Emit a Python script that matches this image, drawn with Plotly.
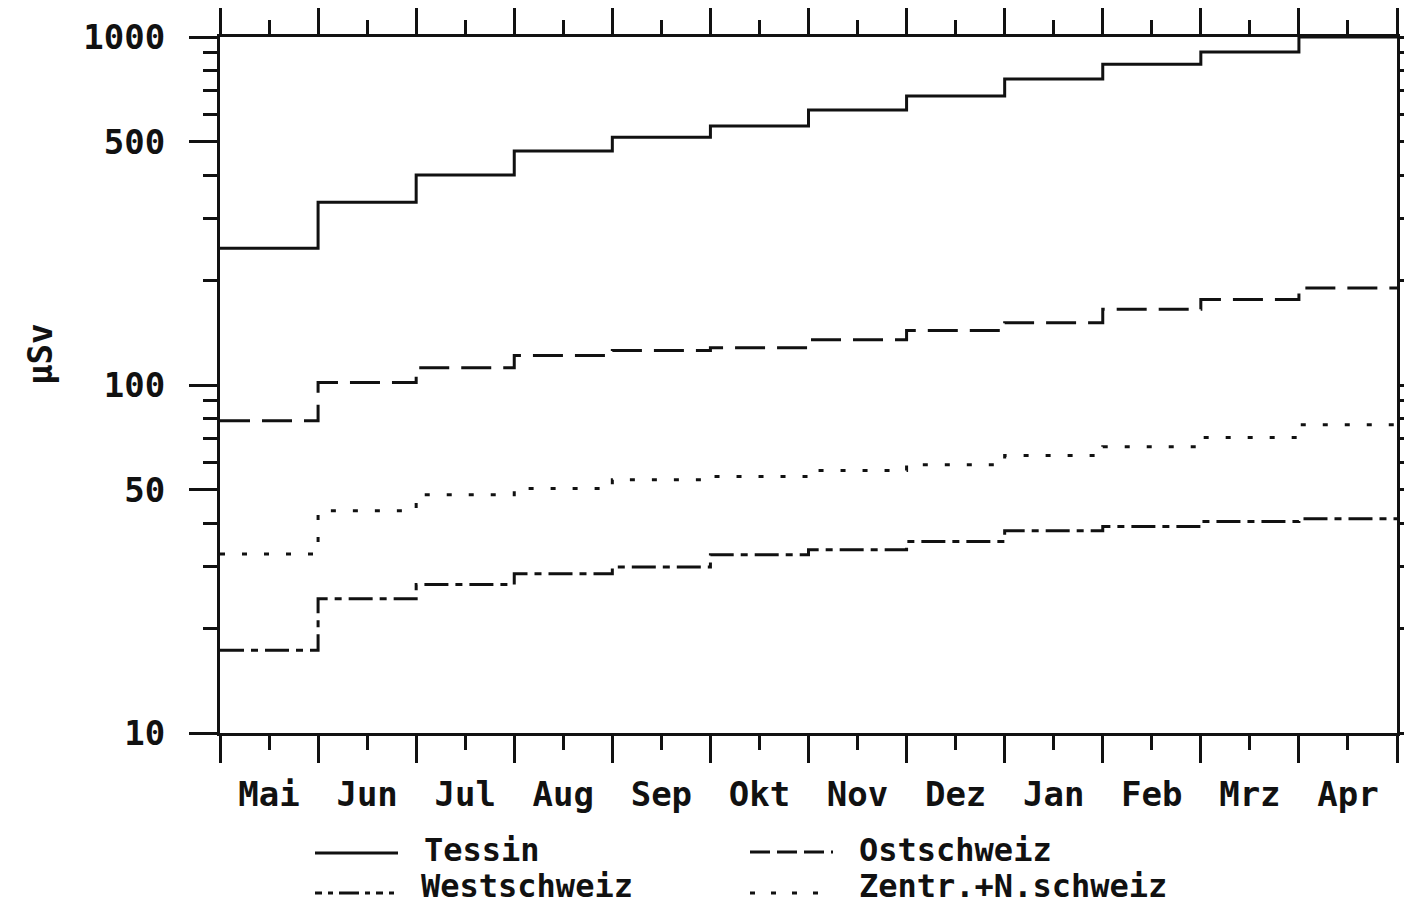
import plotly.graph_objects as go

months = ["Mai", "Jun", "Jul", "Aug", "Sep", "Okt", "Nov", "Dez", "Jan", "Feb", "Mrz", "Apr"]
tessin = [247, 335, 401, 470, 515, 555, 617, 677, 757, 835, 906, 1000]
ostschweiz = [79, 101.6, 112, 121.5, 125.6, 128, 135, 143.5, 151, 165, 176, 190]
westschweiz = [17.3, 24.3, 26.7, 28.7, 30, 32.5, 33.6, 35.5, 38.1, 39.2, 40.5, 41.3]
zentr = [32.7, 43.5, 48.4, 50.4, 53.4, 54.6, 56.8, 59, 62.7, 66.5, 70.6, 76.9]
y_major = [10, 50, 100, 500, 1000]
y_major_text = ["10", "50", "100", "500", "1000"]
y_minor = [20, 30, 40, 60, 70, 80, 90, 200, 300, 400, 600, 700, 800, 900]

# page has an 8px body margin; figure sized so page = 1412x914
OFF = 8
W, H = 1412 - 2 * OFF, 914 - 2 * OFF
L, R, T, B = 220 - OFF, 1397 - OFF, 37 - OFF, 733 - OFF
FONT = dict(family="DejaVu Sans Mono", size=34, color="#111", weight="bold")
LEG_FONT = dict(family="DejaVu Sans Mono", size=32, color="#111", weight="bold")
INK = "#111"

# (name, values, plot dash, legend dash)
series = [
    ("Tessin", tessin, "solid", "solid"),
    ("Ostschweiz", ostschweiz, "30px,12px", "20px,7px"),
    ("Westschweiz", westschweiz, "24px,7px,7px,7px", "7px,6px,5px,6px,20px,6px,5px,6px"),
    ("Zentr.+N.schweiz", zentr, "5px,17px", "5px,16px"),
]

n = len(months)
xs = list(range(n + 1))

fig = go.Figure()
for name, vals, dash, _ in series:
    fig.add_trace(go.Scatter(
        x=xs, y=vals + [vals[-1]], mode="lines", name=name,
        line=dict(color=INK, width=3, dash=dash, shape="hv"),
        showlegend=False,
    ))

fig.update_layout(
    width=W, height=H,
    margin=dict(l=L, r=W - R, t=T, b=H - B, autoexpand=False),
    paper_bgcolor="white", plot_bgcolor="white",
    font=FONT,
    xaxis=dict(
        range=[0, n], tickmode="array", tickvals=xs, showticklabels=False,
        ticks="outside", ticklen=27, tickwidth=3, tickcolor=INK,
        minor=dict(tickmode="array", tickvals=[i + 0.5 for i in range(n)],
                   ticks="outside", ticklen=14, tickwidth=3, tickcolor=INK, showgrid=False),
        showline=True, linewidth=3, linecolor=INK, mirror="ticks",
        showgrid=False, zeroline=False, fixedrange=True,
    ),
    xaxis2=dict(
        overlaying="x", anchor="y", side="bottom", matches="x", range=[0, n],
        tickmode="array", tickvals=[i + 0.5 for i in range(n)], ticktext=months,
        ticks="", ticklabelstandoff=38, showline=False, showgrid=False, zeroline=False,
        tickfont=FONT,
    ),
    yaxis=dict(
        type="log", range=[1, 3], tickmode="array", tickvals=y_major, ticktext=y_major_text,
        ticks="outside", ticklen=28, tickwidth=3, tickcolor=INK,
        ticklabelstandoff=17, tickfont=FONT,
        minor=dict(tickmode="array", tickvals=y_minor, ticks="outside", ticklen=14,
                   tickwidth=3, tickcolor=INK, showgrid=False),
        showline=True, linewidth=3, linecolor=INK, mirror="ticks",
        showgrid=False, zeroline=False,
    ),
)
# invisible trace on xaxis2 so its month labels render
fig.add_trace(go.Scatter(x=[0, n], y=[10, 10], xaxis="x2", mode="lines",
                         line=dict(width=0), hoverinfo="skip", showlegend=False))


def px_x(p):
    return (p - OFF - L) / (R - L)


def px_y(p):
    return (B - (p - OFF)) / (B - T)


# y-axis title
fig.add_annotation(text="µSv", xref="paper", yref="paper", x=px_x(40), y=px_y(355),
                   showarrow=False, textangle=-90, font=FONT, xanchor="center", yanchor="middle")

# legend drawn below the axes
legend_pos = [
    (315, 398, 853, 423, 850),
    (750, 833, 852, 858, 850),
    (315, 398, 893, 420, 886),
    (750, 820, 893, 858, 886),
]
for (name, vals, _, ldash), (x0, x1, yy, tx, ty) in zip(series, legend_pos):
    fig.add_shape(type="line", xref="paper", yref="paper",
                  x0=px_x(x0), x1=px_x(x1), y0=px_y(yy), y1=px_y(yy),
                  line=dict(color=INK, width=3, dash=ldash))
    fig.add_annotation(text=name, xref="paper", yref="paper", x=px_x(tx), y=px_y(ty),
                       showarrow=False, xanchor="left", yanchor="middle", font=LEG_FONT,
                       borderpad=0)

fig.write_html("out.html")
